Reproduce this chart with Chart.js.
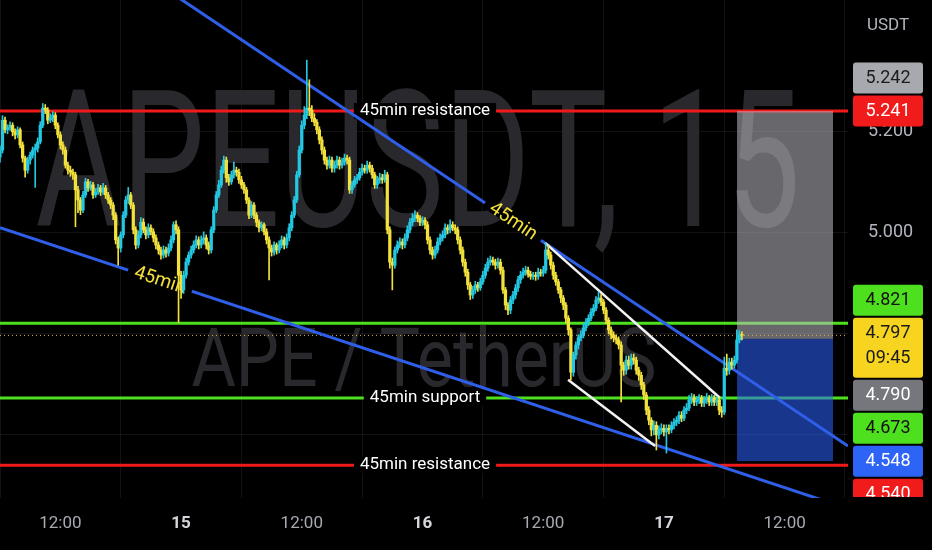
<!DOCTYPE html>
<html><head><meta charset="utf-8">
<script src="https://cdn.jsdelivr.net/npm/chart.js@4.4.0/dist/chart.umd.min.js"></script>
<style>html,body{margin:0;padding:0;background:#000;}#wrap{width:932px;height:550px;position:relative;}</style>
</head><body><div id="wrap"><canvas id="c"></canvas></div>
<script>
// ---- DATA (time in hours from 15th 00:00, 15-minute candles) ----
const startHour = -18;
const stepHours = 0.25;
const firstOpen = 5.150;
const closes = [
5.164,5.223,5.204,5.208, 5.213,5.200,5.194,5.204, 5.174,5.148,5.124,5.144, 5.154,5.164,5.168,5.180,
5.213,5.247,5.243,5.223, 5.227,5.233,5.213,5.194, 5.174,5.164,5.134,5.124, 5.120,5.115,5.085,5.065,
5.045,5.075,5.101,5.089, 5.095,5.075,5.081,5.089, 5.081,5.089,5.075,5.065, 5.055,5.035,4.986,4.970,
4.996,5.035,5.065,5.075, 5.055,5.006,4.976,4.996, 5.021,5.006,4.996,5.010, 5.002,4.990,4.976,4.966,
4.956,4.966,4.960,4.970, 4.986,5.016,5.006,4.916, 4.887,4.916,4.942,4.956, 4.966,4.976,4.986,4.976,
4.986,4.990,4.976,4.966, 5.006,5.045,5.075,5.095, 5.124,5.144,5.109,5.101, 5.115,5.124,5.120,5.105,
5.095,5.085,5.065,5.035, 5.055,5.035,5.021,5.010, 5.016,5.002,4.986,4.970, 4.962,4.976,4.966,4.976,
4.986,4.976,4.990,5.010, 5.035,5.065,5.115,5.164, 5.213,5.233,5.247,5.243, 5.227,5.219,5.204,5.184,
5.164,5.144,5.134,5.144, 5.128,5.134,5.144,5.134, 5.140,5.148,5.144,5.085, 5.095,5.105,5.109,5.120,
5.128,5.124,5.134,5.128, 5.115,5.095,5.105,5.109, 5.105,5.115,5.006,4.942, 4.936,4.966,4.976,4.982,
4.976,4.990,5.006,5.021, 5.029,5.035,5.029,5.021, 5.025,5.016,4.986,4.966, 4.956,4.966,4.982,4.990,
4.996,5.010,5.006,5.016, 5.010,5.006,4.986,4.966, 4.942,4.922,4.897,4.877, 4.887,4.897,4.891,4.903,
4.916,4.930,4.942,4.946, 4.942,4.936,4.942,4.926, 4.887,4.857,4.847,4.867, 4.877,4.891,4.907,4.916,
4.922,4.926,4.918,4.914, 4.916,4.914,4.922,4.920, 4.926,4.966,4.956,4.936, 4.916,4.903,4.887,4.871,
4.857,4.831,4.808,4.724, 4.758,4.778,4.792,4.798, 4.812,4.823,4.831,4.843, 4.851,4.867,4.871,4.863,
4.847,4.827,4.808,4.798, 4.792,4.788,4.778,4.738, 4.728,4.748,4.738,4.752, 4.748,4.728,4.718,4.699,
4.679,4.649,4.629,4.610, 4.619,4.600,4.610,4.613, 4.606,4.613,4.610,4.619, 4.625,4.629,4.639,4.633,
4.649,4.653,4.669,4.673, 4.665,4.669,4.673,4.663, 4.669,4.673,4.665,4.673, 4.665,4.669,4.649,4.645,
4.732,4.728,4.744,4.738, 4.748,4.788,4.798,4.797
];
const highs = [
5.172,5.232,5.229,5.214, 5.220,5.218,5.206,5.210, 5.208,5.180,5.152,5.150, 5.160,5.170,5.176,5.188,
5.220,5.256,5.254,5.248, 5.236,5.240,5.238,5.218, 5.200,5.180,5.170,5.140, 5.132,5.126,5.120,5.092,
5.070,5.082,5.108,5.106, 5.102,5.100,5.088,5.096, 5.094,5.098,5.094,5.080, 5.070,5.060,5.040,4.992,
5.002,5.042,5.072,5.090, 5.080,5.060,5.012,5.004, 5.030,5.028,5.012,5.018, 5.016,5.008,4.996,4.982,
4.972,4.974,4.972,4.978, 4.994,5.022,5.024,5.012, 4.924,4.924,4.950,4.962, 4.974,4.984,4.994,4.992,
4.994,5.002,4.996,4.982, 5.012,5.052,5.082,5.104, 5.132,5.152,5.150,5.116, 5.122,5.140,5.130,5.126,
5.112,5.100,5.090,5.070, 5.062,5.060,5.040,5.026, 5.022,5.020,5.008,4.992, 4.976,4.982,4.980,4.984,
4.994,4.992,4.998,5.018, 5.042,5.072,5.122,5.172, 5.222,5.250,5.342,5.303, 5.252,5.236,5.224,5.210,
5.190,5.170,5.150,5.152, 5.150,5.142,5.152,5.150, 5.148,5.156,5.154,5.150, 5.102,5.112,5.116,5.128,
5.136,5.134,5.142,5.140, 5.134,5.120,5.112,5.118, 5.116,5.124,5.120,5.012, 4.950,4.972,4.984,4.990,
4.988,4.998,5.014,5.028, 5.038,5.044,5.040,5.034, 5.032,5.030,5.022,4.992, 4.972,4.974,4.990,4.998,
5.004,5.018,5.016,5.026, 5.022,5.016,5.012,4.992, 4.972,4.948,4.928,4.902, 4.894,4.904,4.902,4.910,
4.924,4.938,4.950,4.954, 4.952,4.948,4.950,4.948, 4.932,4.892,4.862,4.874, 4.884,4.898,4.914,4.924,
4.930,4.934,4.932,4.924, 4.922,4.922,4.930,4.928, 4.934,4.980,4.976,4.962, 4.942,4.922,4.908,4.892,
4.876,4.862,4.836,4.812, 4.764,4.784,4.798,4.806, 4.820,4.830,4.838,4.850, 4.858,4.874,4.883,4.878,
4.868,4.852,4.832,4.814, 4.804,4.798,4.794,4.784, 4.744,4.756,4.756,4.760, 4.760,4.754,4.734,4.724,
4.704,4.684,4.656,4.634, 4.628,4.626,4.618,4.622, 4.620,4.620,4.620,4.626, 4.632,4.636,4.646,4.646,
4.656,4.662,4.678,4.682, 4.680,4.676,4.680,4.678, 4.676,4.682,4.678,4.680, 4.678,4.676,4.674,4.656,
4.754,4.760,4.752,4.752, 4.756,4.808,4.806,4.804
];
const lows = [
5.140,5.158,5.198,5.196, 5.203,5.192,5.186,5.188, 5.168,5.140,5.110,5.118, 5.136,5.148,5.090,5.160,
5.176,5.208,5.236,5.216, 5.218,5.220,5.206,5.188, 5.166,5.156,5.128,5.116, 5.112,5.106,5.012,5.040,
5.036,5.040,5.070,5.082, 5.084,5.068,5.070,5.076, 5.074,5.076,5.068,5.058, 5.048,5.026,4.978,4.936,
4.962,4.990,5.030,5.058, 5.048,4.998,4.968,4.970, 4.990,5.000,4.988,4.990, 4.996,4.982,4.968,4.958,
4.948,4.950,4.952,4.954, 4.964,4.980,4.998,4.822, 4.870,4.880,4.910,4.936, 4.950,4.960,4.970,4.968,
4.970,4.978,4.968,4.958, 4.960,5.000,5.040,5.070, 5.090,5.118,5.100,5.094, 5.096,5.108,5.112,5.098,
5.088,5.078,5.058,5.028, 5.030,5.028,5.012,5.002, 5.004,4.996,4.978,4.907, 4.954,4.956,4.958,4.960,
4.970,4.968,4.970,4.984, 5.004,5.030,5.060,5.110, 5.158,5.206,5.226,5.232, 5.220,5.212,5.196,5.176,
5.156,5.136,5.126,5.128, 5.120,5.120,5.128,5.126, 5.128,5.134,5.136,5.078, 5.078,5.090,5.098,5.104,
5.114,5.118,5.118,5.120, 5.108,5.088,5.088,5.098, 5.098,5.100,4.998,4.930, 4.887,4.930,4.960,4.970,
4.968,4.970,4.984,5.000, 5.014,5.022,5.022,5.014, 5.014,5.008,4.978,4.958, 4.948,4.950,4.960,4.976,
4.984,4.990,4.998,5.000, 5.004,4.998,4.978,4.958, 4.934,4.914,4.888,4.868, 4.870,4.880,4.884,4.886,
4.898,4.910,4.924,4.936, 4.936,4.928,4.930,4.918, 4.880,4.848,4.838,4.840, 4.860,4.870,4.884,4.900,
4.910,4.916,4.912,4.908, 4.908,4.906,4.908,4.914, 4.914,4.920,4.948,4.928, 4.908,4.896,4.880,4.862,
4.848,4.822,4.798,4.709, 4.716,4.750,4.770,4.786, 4.792,4.806,4.816,4.826, 4.836,4.846,4.860,4.856,
4.840,4.820,4.800,4.790, 4.784,4.780,4.770,4.665, 4.718,4.720,4.730,4.730, 4.740,4.720,4.708,4.690,
4.670,4.640,4.620,4.598, 4.600,4.570,4.592,4.602, 4.598,4.564,4.602,4.604, 4.612,4.618,4.622,4.626,
4.628,4.642,4.648,4.662, 4.658,4.658,4.662,4.656, 4.656,4.662,4.658,4.658, 4.658,4.658,4.640,4.635,
4.640,4.718,4.720,4.730, 4.732,4.742,4.782,4.788
];
// horizontal levels
const levelPrices = [5.241, 4.821, 4.673, 4.540];
const levelKinds  = ['res', 'sup', 'sup', 'res'];
const levelLabels = ['45min resistance', '', '45min support', '45min resistance'];
const currentPrice = 4.797;
const countdown = '09:45';
// trend lines [hour, price]
const upperTrend = [[-0.5, 5.469], [66.3, 4.578]];
const lowerTrend = [[-18, 5.010], [66.3, 4.454]];
const channelTop = [[36.18, 4.980], [53.58, 4.673]];
const channelBottom = [[38.47, 4.709], [47.12, 4.578]];
const trendLabelHours = [33.0, -2.1];
const trendLabelText = '45min';
// long position tool
const positionHours = [55.27, 64.81];
const positionTarget = 5.241, positionEntry = 4.790, positionStop = 4.548;
// axes
const xRange = [-18, 66.3];
const yRange = [4.475, 5.461];
const xTickHours  = [-12, 0, 12, 24, 36, 48, 60];
const xTickLabels = ['12:00', '15', '12:00', '16', '12:00', '17', '12:00'];
const yTickValues = [4.6, 4.8, 5.0, 5.2];
const tagsTop = [
  {lines:['5.242'], price:5.242, bg:'#a7a9ae', fg:'#1b1b1d'},
  {lines:['5.241'], price:5.241, bg:'#f21b1b', fg:'#ffffff'}
];
const tagsBottom = [
  {lines:['4.821'], price:4.821, bg:'#4ee01e', fg:'#111111'},
  {lines:['4.797', countdown], price:4.797, bg:'#f7d41f', fg:'#1a1a1a'},
  {lines:['4.790'], price:4.790, bg:'#75777d', fg:'#ffffff'},
  {lines:['4.673'], price:4.673, bg:'#4ee01e', fg:'#111111'},
  {lines:['4.548'], price:4.548, bg:'#2e64f5', fg:'#ffffff'},
  {lines:['4.540'], price:4.540, bg:'#f21b1b', fg:'#ffffff'}
];
const watermarkMain = 'APEUSDT, 15';
const watermarkSub = 'APE / TetherUS';
const currencyLabel = 'USDT';

// ---- STYLE ----
const UP = '#24c8e2', DOWN = '#f2e03c';
const RED = '#f01a1a', GREEN = '#4ee01e', BLUE = '#2f5fe8', WHITE = '#f2f2f2';
const FONT = 'Roboto, "Noto Sans", sans-serif';

const times = closes.map((_, i) => startHour + i * stepHours);
const opens = closes.map((c, i) => i === 0 ? firstOpen : closes[i - 1]);
const isUp = closes.map((c, i) => c >= opens[i]);
const candleColors = isUp.map(u => u ? UP : DOWN);

const lineDs = (pts, color, width, order, extra) => Object.assign({
  type: 'line', data: pts.map(p => ({x: p[0], y: p[1]})), borderColor: color,
  borderWidth: width, pointRadius: 0, tension: 0, order, fill: false
}, extra || {});

const datasets = [];
levelPrices.forEach((p, i) => {
  datasets.push(lineDs([[xRange[0], p], [xRange[1], p]], levelKinds[i] === 'res' ? RED : GREEN, 3, 30 - i,
    i === levelPrices.length - 1 ? {tag: 'levelsDone'} : {}));
});
datasets.push(lineDs([[xRange[0], currentPrice], [xRange[1], currentPrice]], '#d9b44a', 1, 20, {borderDash: [1, 3]}));
datasets.push(lineDs(upperTrend, BLUE, 3, 19));
datasets.push(lineDs(lowerTrend, BLUE, 3, 18));
datasets.push(lineDs(channelTop, WHITE, 2.5, 17));
datasets.push(lineDs(channelBottom, WHITE, 2.5, 16, {tag: 'trendsDone'}));
datasets.push({
  type: 'bar', data: times.map((t, i) => ({x: t, y: [lows[i], highs[i]]})),
  backgroundColor: candleColors, barThickness: 1, grouped: false, order: 2, borderWidth: 0, minBarLength: 1
});
datasets.push({
  type: 'bar', data: times.map((t, i) => ({x: t, y: [opens[i], closes[i]]})),
  backgroundColor: candleColors, barThickness: 2.6, grouped: false, order: 1, borderWidth: 0, minBarLength: 1
});

function roundRect(ctx, x, y, w, h, r) {
  ctx.beginPath();
  ctx.moveTo(x + r, y); ctx.lineTo(x + w - r, y); ctx.quadraticCurveTo(x + w, y, x + w, y + r);
  ctx.lineTo(x + w, y + h - r); ctx.quadraticCurveTo(x + w, y + h, x + w - r, y + h);
  ctx.lineTo(x + r, y + h); ctx.quadraticCurveTo(x, y + h, x, y + h - r);
  ctx.lineTo(x, y + r); ctx.quadraticCurveTo(x, y, x + r, y); ctx.closePath();
}

function drawTags(ctx, chart, tags, anchor) {
  const ys = chart.scales.y, a = chart.chartArea;
  const H1 = 31, H2 = 60, GAP = 2;
  const hs = tags.map(t => t.lines.length === 1 ? H1 : H2);
  const tops = [];
  tops[anchor] = ys.getPixelForValue(tags[anchor].price) - hs[anchor] / 2;
  for (let i = anchor - 1; i >= 0; i--) tops[i] = tops[i + 1] - GAP - hs[i];
  for (let i = anchor + 1; i < tags.length; i++) tops[i] = tops[i - 1] + hs[i - 1] + GAP;
  const x0 = a.right + 5, w = 70;
  tags.forEach((t, i) => {
    ctx.fillStyle = t.bg;
    roundRect(ctx, x0, tops[i], w, hs[i], 3); ctx.fill();
    ctx.fillStyle = t.fg;
    ctx.font = '18px ' + FONT; ctx.textAlign = 'center'; ctx.textBaseline = 'middle';
    t.lines.forEach((ln, k) => ctx.fillText(ln, x0 + w / 2, tops[i] + 16 + k * 25));
  });
}

function lineAt(pts, h, chart) {
  const xs = chart.scales.x, ys = chart.scales.y;
  const [p0, p1] = pts;
  const f = (h - p0[0]) / (p1[0] - p0[0]);
  const price = p0[1] + f * (p1[1] - p0[1]);
  const x0 = xs.getPixelForValue(p0[0]), y0 = ys.getPixelForValue(p0[1]);
  const x1 = xs.getPixelForValue(p1[0]), y1 = ys.getPixelForValue(p1[1]);
  return {x: xs.getPixelForValue(h), y: ys.getPixelForValue(price), ang: Math.atan2(y1 - y0, x1 - x0)};
}

const isDayTick = v => { const k = xTickHours.indexOf(v); return k >= 0 && xTickLabels[k].length <= 2; };

const overlay = {
  id: 'overlay',
  beforeDatasetsDraw(chart) {
    const ctx = chart.ctx, a = chart.chartArea;
    const cx = (a.left + a.right) / 2, cy = (a.top + a.bottom) / 2;
    ctx.save();
    ctx.fillStyle = '#29292d';
    ctx.textAlign = 'center'; ctx.textBaseline = 'alphabetic';
    ctx.font = '192px ' + FONT;
    ctx.fillText(watermarkMain, cx - 6, cy - 23, 765);
    ctx.font = '82px ' + FONT;
    ctx.fillText(watermarkSub, cx, cy + 137, 465);
    ctx.restore();
  },
  afterDatasetDraw(chart, args) {
    const ds = chart.data.datasets[args.index];
    const ctx = chart.ctx, a = chart.chartArea;
    const xs = chart.scales.x, ys = chart.scales.y;
    if (ds.tag === 'levelsDone') {
      ctx.save();
      ctx.beginPath(); ctx.rect(a.left, a.top, a.right - a.left, a.bottom - a.top); ctx.clip();
      const px0 = xs.getPixelForValue(positionHours[0]), px1 = xs.getPixelForValue(positionHours[1]);
      const yT = ys.getPixelForValue(positionTarget), yE = ys.getPixelForValue(positionEntry), yS = ys.getPixelForValue(positionStop);
      ctx.fillStyle = 'rgba(185,186,192,0.56)';
      ctx.fillRect(px0, yT, px1 - px0, yE - yT);
      ctx.fillStyle = 'rgba(41,98,255,0.55)';
      ctx.fillRect(px0, yE, px1 - px0, yS - yE);
      ctx.font = '17px ' + FONT; ctx.textAlign = 'center'; ctx.textBaseline = 'middle';
      const cx = (a.left + a.right) / 2 + 1;
      levelPrices.forEach((p, i) => {
        if (!levelLabels[i]) return;
        const y = ys.getPixelForValue(p);
        const w = ctx.measureText(levelLabels[i]).width + 12;
        ctx.fillStyle = '#000'; ctx.fillRect(cx - w / 2, y - 8, w, 16);
        ctx.fillStyle = '#ffffff'; ctx.fillText(levelLabels[i], cx, y);
      });
      ctx.restore();
    }
    if (ds.tag === 'trendsDone') {
      ctx.save();
      ctx.beginPath(); ctx.rect(a.left, a.top, a.right - a.left, a.bottom - a.top); ctx.clip();
      ctx.font = '19px ' + FONT; ctx.textAlign = 'center'; ctx.textBaseline = 'middle';
      [upperTrend, lowerTrend].forEach((ln, i) => {
        const q = lineAt(ln, trendLabelHours[i], chart);
        ctx.save(); ctx.translate(q.x, q.y); ctx.rotate(q.ang);
        const w = ctx.measureText(trendLabelText).width + 14;
        ctx.fillStyle = '#000'; ctx.fillRect(-w / 2, -5, w, 10);
        ctx.fillStyle = '#f5e13c'; ctx.fillText(trendLabelText, 0, 0);
        ctx.restore();
      });
      ctx.restore();
    }
  },
  afterDraw(chart) {
    const ctx = chart.ctx, a = chart.chartArea;
    ctx.save();
    ctx.beginPath(); ctx.rect(a.right, 0, chart.width - a.right, a.bottom - 1); ctx.clip();
    drawTags(ctx, chart, tagsTop, 1);
    drawTags(ctx, chart, tagsBottom, 4);
    ctx.fillStyle = '#b2b5be'; ctx.font = '17px ' + FONT; ctx.textAlign = 'center'; ctx.textBaseline = 'middle';
    ctx.fillText(currencyLabel, a.right + 40, 26);
    ctx.restore();
  }
};

const canvas = document.getElementById('c');
canvas.width = 932; canvas.height = 550;
new Chart(canvas, {
  type: 'bar',
  data: {datasets},
  plugins: [overlay, {id: 'bg', beforeDraw(c) { c.ctx.save(); c.ctx.fillStyle = '#000'; c.ctx.fillRect(0, 0, c.width, c.height); c.ctx.restore(); }}],
  options: {
    responsive: false, animation: false, devicePixelRatio: 1,
    layout: {padding: 0},
    plugins: {legend: {display: false}, tooltip: {enabled: false}},
    scales: {
      x: {
        type: 'linear', min: xRange[0], max: xRange[1], offset: false,
        afterBuildTicks: s => { s.ticks = xTickHours.map(v => ({value: v})); },
        afterFit: s => { s.height = 52; s.paddingLeft = 0; s.paddingRight = 0; },
        grid: {color: 'rgba(255,255,255,0.07)', drawTicks: false, lineWidth: 1},
        border: {display: false},
        ticks: {
          padding: 16, maxRotation: 0, autoSkip: false,
          callback: v => { const k = xTickHours.indexOf(v); return k < 0 ? '' : xTickLabels[k]; },
          color: c => (c && c.tick && isDayTick(c.tick.value)) ? '#d4d6dc' : '#a7aab2',
          font: c => ({family: FONT, size: 17, weight: (c && c.tick && isDayTick(c.tick.value)) ? 'bold' : 'normal'})
        }
      },
      y: {
        type: 'linear', position: 'right', min: yRange[0], max: yRange[1],
        afterBuildTicks: s => { s.ticks = yTickValues.map(v => ({value: v})); },
        afterFit: s => { s.width = 84; s.paddingTop = 0; s.paddingBottom = 0; },
        grid: {color: 'rgba(255,255,255,0.07)', drawTicks: false, lineWidth: 1},
        border: {display: false},
        ticks: {padding: 20, color: '#b2b5be', font: {family: FONT, size: 18}, callback: v => Number(v).toFixed(3)}
      }
    }
  }
});
</script></body></html>
